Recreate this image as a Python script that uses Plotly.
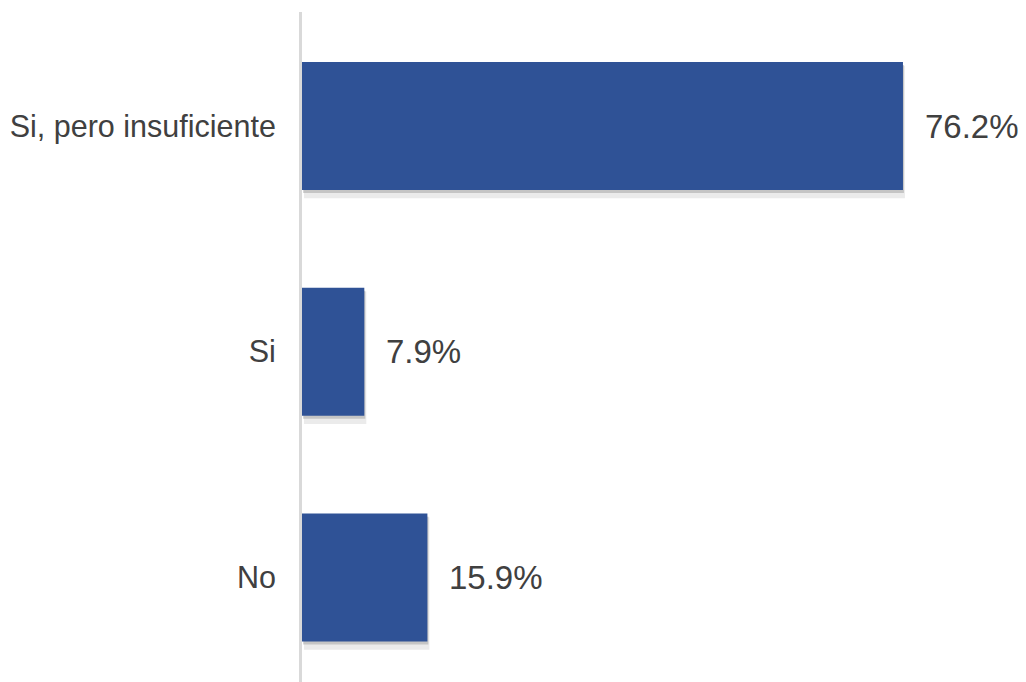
import plotly.graph_objects as go

categories = ["No", "Si", "Si, pero insuficiente"]
values = [15.9, 7.9, 76.2]
labels = ["15.9%", "7.9%", "76.2%"]

BAR_COLOR = "#2F5296"
TEXT_COLOR = "#404040"
FONT = "Liberation Sans, Arial, sans-serif"

X_RANGE = [0, 91.8]
Y_RANGE = [-0.463, 2.505]
BAR_W = 0.567

# the page body adds an 8px offset, so size/margins are reduced by 8
OFF = 8
FIG_W, FIG_H = 1026 - OFF, 682 - OFF
ML, MT = 302 - OFF, 12 - OFF
PLOT_W, PLOT_H = 724, 670

fig = go.Figure()

# soft drop shadow layers (shifted ranges), drawn beneath the main bars
fig.add_trace(go.Bar(
    y=categories, x=values, orientation="h", width=BAR_W + 0.02,
    marker=dict(color="rgba(0,0,0,0.08)", line=dict(width=0)), opacity=1,
    xaxis="x", yaxis="y", hoverinfo="skip", showlegend=False,
))
fig.add_trace(go.Bar(
    y=categories, x=values, orientation="h", width=BAR_W,
    marker=dict(color="rgba(0,0,0,0.16)", line=dict(width=0)), opacity=1,
    xaxis="x2", yaxis="y2", hoverinfo="skip", showlegend=False,
))
# main bars (top-most overlay)
fig.add_trace(go.Bar(
    y=categories, x=values, orientation="h", width=BAR_W,
    marker=dict(color=BAR_COLOR, line=dict(width=0)), opacity=1,
    xaxis="x3", yaxis="y3", showlegend=False,
))

for cat, v, t in zip(categories, values, labels):
    fig.add_annotation(
        x=v, y=cat, xref="x3", yref="y3", text=t, showarrow=False,
        xanchor="left", xshift=20, font=dict(size=33, color=TEXT_COLOR, family=FONT),
    )

px_x = PLOT_W / (X_RANGE[1] - X_RANGE[0])
px_y = PLOT_H / (Y_RANGE[1] - Y_RANGE[0])

def xr(shift_px):
    s = shift_px / px_x
    return [X_RANGE[0] - s, X_RANGE[1] - s]

def yr(shift_px):
    s = shift_px / px_y
    return [Y_RANGE[0] + s, Y_RANGE[1] + s]

hidden = dict(showgrid=False, zeroline=False, showticklabels=False, showline=False,
              ticks="", automargin=False)

fig.update_layout(
    width=FIG_W, height=FIG_H,
    margin=dict(l=ML, r=FIG_W - ML - PLOT_W, t=MT, b=FIG_H - MT - PLOT_H, autoexpand=False),
    paper_bgcolor="white", plot_bgcolor="white",
    barmode="overlay",
    xaxis=dict(range=xr(2), **hidden),
    yaxis=dict(range=yr(6), type="category", categoryarray=categories, **hidden),
    xaxis2=dict(range=xr(1), overlaying="x", **hidden),
    yaxis2=dict(range=yr(3), type="category", categoryarray=categories, overlaying="y", **hidden),
    xaxis3=dict(range=X_RANGE, overlaying="x", **hidden),
    yaxis3=dict(
        range=Y_RANGE, type="category", categoryarray=categories, overlaying="y",
        showgrid=False, zeroline=False, showline=True, linecolor="#D9D9D9", linewidth=3,
        ticks="", ticklabelstandoff=17, side="left", automargin=False,
        tickfont=dict(size=30.5, color=TEXT_COLOR, family=FONT),
    ),
)

fig.write_html("out.html")
